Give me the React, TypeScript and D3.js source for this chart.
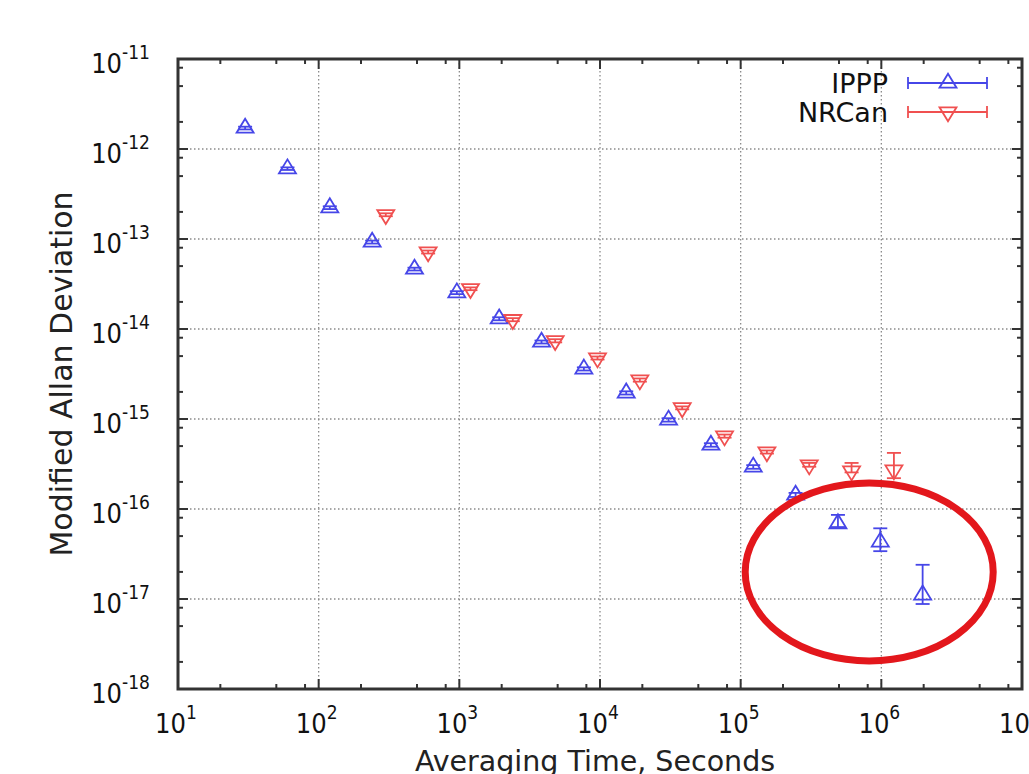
import * as d3 from 'd3'

// Averaging times (s) and modified Allan deviation
const ipppTau = [30, 60, 120, 240, 480, 960, 1920, 3840, 7680, 15360, 30720, 61440, 122880, 245760, 491520, 983040, 1966080]
const ipppDev = [1.71e-12, 6.04e-13, 2.23e-13, 9.26e-14, 4.64e-14, 2.53e-14, 1.3e-14, 7.17e-15, 3.6e-15, 1.95e-15, 9.75e-16, 5.14e-16, 2.93e-16, 1.43e-16, 6.87e-17, 4.3e-17, 1.11e-17]
const ipppLo = [1.65e-12, 5.85e-13, 2.15e-13, 8.9e-14, 4.47e-14, 2.44e-14, 1.25e-14, 6.9e-15, 3.46e-15, 1.87e-15, 9.35e-16, 4.92e-16, 2.8e-16, 1.36e-16, 6.3e-17, 3.4e-17, 8.8e-18]
const ipppHi = [1.77e-12, 6.25e-13, 2.31e-13, 9.6e-14, 4.8e-14, 2.63e-14, 1.35e-14, 7.45e-15, 3.75e-15, 2.03e-15, 1.02e-15, 5.38e-16, 3.07e-16, 1.51e-16, 8.6e-17, 6.1e-17, 2.4e-17]

const nrcanTau = [300, 600, 1200, 2400, 4800, 9600, 19200, 38400, 76800, 153600, 307200, 614400, 1228800]
const nrcanDev = [1.86e-13, 7.17e-14, 2.8e-14, 1.27e-14, 7.41e-15, 4.76e-15, 2.71e-15, 1.33e-15, 6.47e-16, 4.3e-16, 3.08e-16, 2.64e-16, 2.71e-16]
const nrcanLo = [1.79e-13, 6.9e-14, 2.7e-14, 1.22e-14, 7.1e-15, 4.58e-15, 2.6e-15, 1.28e-15, 6.2e-16, 4.13e-16, 2.95e-16, 2.55e-16, 2.2e-16]
const nrcanHi = [1.93e-13, 7.45e-14, 2.9e-14, 1.32e-14, 7.7e-15, 4.95e-15, 2.82e-15, 1.38e-15, 6.72e-16, 4.47e-16, 3.25e-16, 3.25e-16, 4.2e-16]

const xExponents = [1, 2, 3, 4, 5, 6, 7]
const yExponents = [-11, -12, -13, -14, -15, -16, -17, -18]
const minorMults = [2, 5, 8]

// highlight ring drawn over the long-tau region
const ringCenter = { tau: 8.2e5, dev: 2.0e-17 }

const W = 1029
const H = 774
const plot = { left: 178, right: 1022, top: 59, bottom: 689 }

const BLUE = '#4646e8'
const RED = '#f05050'
const FRAME = '#333'
const TICK_FONT = '"DejaVu Sans Condensed", "DejaVu Sans", sans-serif'
const LABEL_FONT = '"DejaVu Sans", Verdana, sans-serif'

function upTri(cx: number, cy: number) {
  // centroid sits on the data value
  const w = 8.5, h = 14
  return `M${cx},${cy - (2 * h) / 3} L${cx + w},${cy + h / 3} L${cx - w},${cy + h / 3} Z`
}

function downTri(cx: number, cy: number) {
  const w = 8.5, h = 14
  return `M${cx - w},${cy - h / 3} L${cx + w},${cy - h / 3} L${cx},${cy + (2 * h) / 3} Z`
}

export default function App() {
  const x = d3.scaleLog().domain([1e1, 1e7]).range([plot.left, plot.right])
  const y = d3.scaleLog().domain([1e-18, 1e-11]).range([plot.bottom, plot.top])

  const xMinor: number[] = []
  xExponents.slice(0, -1).forEach(e => minorMults.forEach(m => xMinor.push(m * Math.pow(10, e))))
  const yMinor: number[] = []
  yExponents.slice(1).forEach(e => minorMults.forEach(m => yMinor.push(m * Math.pow(10, e))))

  const cap = 7

  const series = [
    { tau: ipppTau, dev: ipppDev, lo: ipppLo, hi: ipppHi, color: BLUE, shape: upTri },
    { tau: nrcanTau, dev: nrcanDev, lo: nrcanLo, hi: nrcanHi, color: RED, shape: downTri },
  ]

  const legend = [
    { name: 'IPPP', color: BLUE, shape: upTri, y: 83 },
    { name: 'NRCan', color: RED, shape: downTri, y: 112 },
  ]

  return (
    <svg width={W} height={H} style={{ position: 'absolute', left: 0, top: 0, background: '#fff' }}>
      {/* grid */}
      {xExponents.slice(1, -1).map(e => (
        <line key={'gx' + e} x1={x(Math.pow(10, e))} x2={x(Math.pow(10, e))} y1={plot.top} y2={plot.bottom}
          stroke="#8a8a8a" strokeWidth={1.3} strokeDasharray="1.5,2.5" />
      ))}
      {yExponents.slice(1, -1).map(e => (
        <line key={'gy' + e} y1={y(Math.pow(10, e))} y2={y(Math.pow(10, e))} x1={plot.left} x2={plot.right}
          stroke="#8a8a8a" strokeWidth={1.3} strokeDasharray="1.5,2.5" />
      ))}

      {/* ticks, inward on all four sides */}
      {xExponents.map(e => {
        const px = x(Math.pow(10, e))
        return (
          <g key={'tx' + e} stroke={FRAME} strokeWidth={2}>
            <line x1={px} x2={px} y1={plot.bottom} y2={plot.bottom - 10} />
            <line x1={px} x2={px} y1={plot.top} y2={plot.top + 10} />
          </g>
        )
      })}
      {xMinor.map(v => {
        const px = x(v)
        return (
          <g key={'mx' + v} stroke={FRAME} strokeWidth={2}>
            <line x1={px} x2={px} y1={plot.bottom} y2={plot.bottom - 5} />
            <line x1={px} x2={px} y1={plot.top} y2={plot.top + 5} />
          </g>
        )
      })}
      {yExponents.map(e => {
        const py = y(Math.pow(10, e))
        return (
          <g key={'ty' + e} stroke={FRAME} strokeWidth={2}>
            <line y1={py} y2={py} x1={plot.left} x2={plot.left + 10} />
            <line y1={py} y2={py} x1={plot.right} x2={plot.right - 10} />
          </g>
        )
      })}
      {yMinor.map(v => {
        const py = y(v)
        return (
          <g key={'my' + v} stroke={FRAME} strokeWidth={2}>
            <line y1={py} y2={py} x1={plot.left} x2={plot.left + 5} />
            <line y1={py} y2={py} x1={plot.right} x2={plot.right - 5} />
          </g>
        )
      })}

      {/* frame */}
      <rect x={plot.left} y={plot.top} width={plot.right - plot.left} height={plot.bottom - plot.top}
        fill="none" stroke={FRAME} strokeWidth={3} />

      {/* tick labels */}
      {xExponents.map(e => (
        <text key={'lx' + e} x={x(Math.pow(10, e)) - 2} y={733} textAnchor="middle"
          fontFamily={TICK_FONT} fontSize={27} fill="#111">
          10<tspan dy={-14} fontSize={19}>{e}</tspan>
        </text>
      ))}
      {yExponents.map(e => (
        <text key={'ly' + e} x={150} y={y(Math.pow(10, e)) + 14} textAnchor="end"
          fontFamily={TICK_FONT} fontSize={27} fill="#111">
          10<tspan dy={-14} fontSize={19}>{e}</tspan>
        </text>
      ))}

      {/* axis titles */}
      <text x={595} y={771} textAnchor="middle" fontFamily={LABEL_FONT} fontSize={28.5} fill="#222">
        Averaging Time, Seconds
      </text>
      <text transform={`translate(72,${(plot.top + plot.bottom) / 2}) rotate(-90)`} textAnchor="middle"
        fontFamily={LABEL_FONT} fontSize={30} fill="#222">
        Modified Allan Deviation
      </text>

      {/* data: error bars + markers */}
      {series.map((s, si) => (
        <g key={'s' + si} stroke={s.color} strokeWidth={1.8} fill="none">
          {s.tau.map((t, i) => {
            const px = x(t)
            return (
              <g key={i}>
                <line x1={px} x2={px} y1={y(s.lo[i])} y2={y(s.hi[i])} />
                <line x1={px - cap} x2={px + cap} y1={y(s.lo[i])} y2={y(s.lo[i])} />
                <line x1={px - cap} x2={px + cap} y1={y(s.hi[i])} y2={y(s.hi[i])} />
                <path d={s.shape(px, y(s.dev[i]))} />
              </g>
            )
          })}
        </g>
      ))}

      {/* legend */}
      {legend.map(l => (
        <g key={l.name}>
          <text x={888} y={l.y + 10} textAnchor="end" fontFamily={LABEL_FONT} fontSize={27} fill="#111">{l.name}</text>
          <g stroke={l.color} strokeWidth={1.8} fill="none">
            <line x1={908} x2={987} y1={l.y} y2={l.y} />
            <line x1={908} x2={908} y1={l.y - 6} y2={l.y + 6} />
            <line x1={987} x2={987} y1={l.y - 6} y2={l.y + 6} />
            <path d={l.shape(948, l.y)} />
          </g>
        </g>
      ))}

      {/* red highlight ring */}
      <ellipse cx={x(ringCenter.tau)} cy={y(ringCenter.dev)} rx={124} ry={89}
        fill="none" stroke="#e3171c" strokeWidth={7} />
    </svg>
  )
}
